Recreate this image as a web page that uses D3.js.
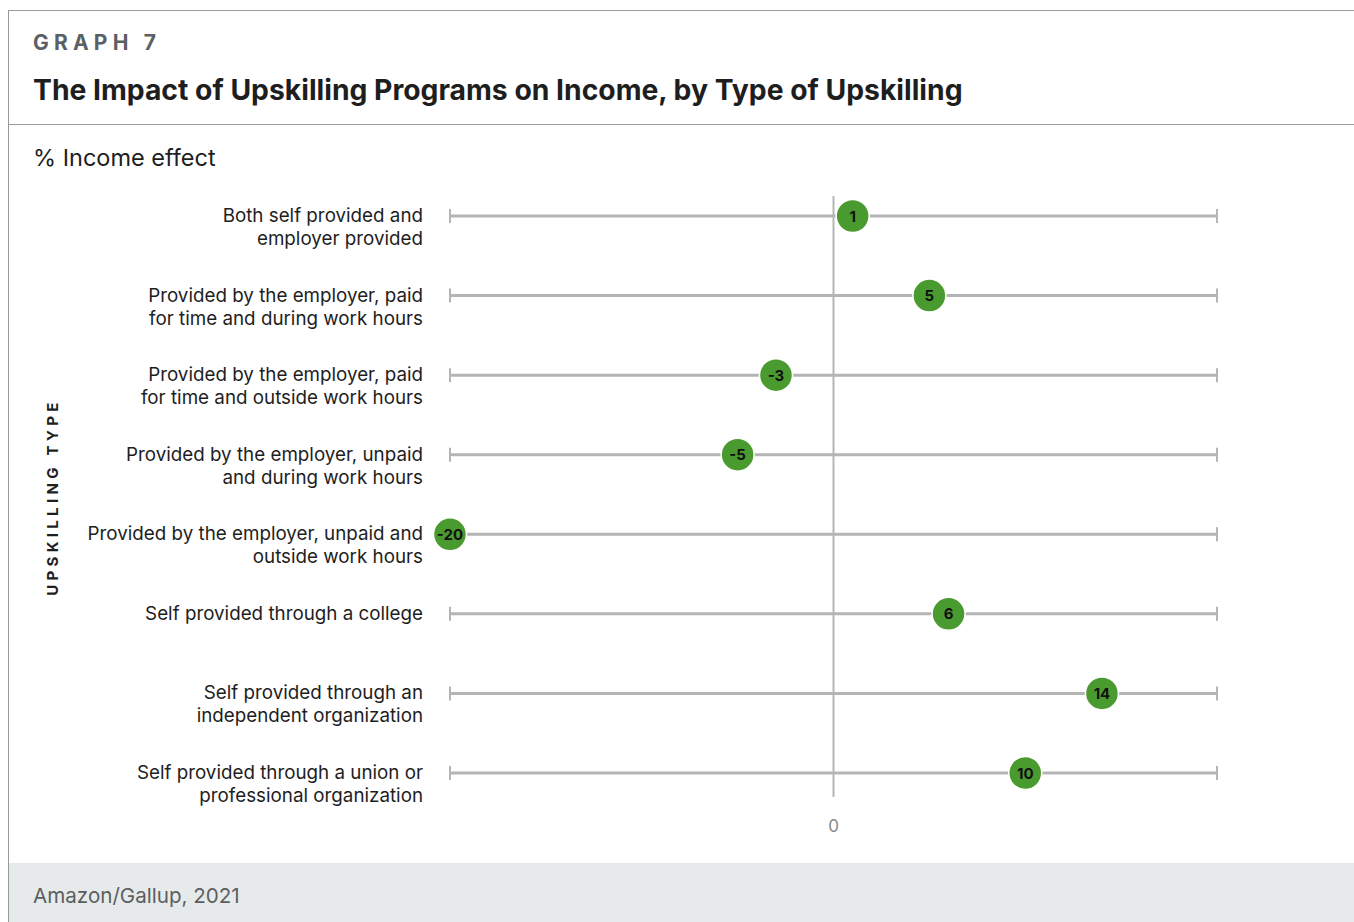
<!DOCTYPE html>
<html>
<head>
<meta charset="utf-8">
<script src="https://cdn.jsdelivr.net/npm/d3@7"></script>
<style>
  body { margin: 0; background: #fff; }
  svg { display: block; font-family: Inter, "Noto Sans", sans-serif; }
</style>
</head>
<body>
<div id="chart"></div>
<script>
// categories, two lines each, top to bottom
var categories = [
  ["Both self provided and", "employer provided"],
  ["Provided by the employer, paid", "for time and during work hours"],
  ["Provided by the employer, paid", "for time and outside work hours"],
  ["Provided by the employer, unpaid", "and during work hours"],
  ["Provided by the employer, unpaid and", "outside work hours"],
  ["Self provided through a college"],
  ["Self provided through an", "independent organization"],
  ["Self provided through a union or", "professional organization"]
];
var incomeEffect = [1, 5, -3, -5, -20, 6, 14, 10];
var xDomain = [-20, 20];
var xTicks = [0];

var width = 1354, height = 922;

var svg = d3.select("#chart").append("svg")
    .attr("width", width)
    .attr("height", height);

// frame lines
svg.append("line").attr("x1", 8.5).attr("x2", 8.5).attr("y1", 10).attr("y2", height)
    .attr("stroke", "#9a9a9a").attr("stroke-width", 1);
svg.append("line").attr("x1", 8).attr("x2", width).attr("y1", 10.5).attr("y2", 10.5)
    .attr("stroke", "#9a9a9a").attr("stroke-width", 1);
svg.append("line").attr("x1", 8).attr("x2", width).attr("y1", 124.5).attr("y2", 124.5)
    .attr("stroke", "#9a9a9a").attr("stroke-width", 1);

// footer
svg.append("rect").attr("x", 9).attr("y", 863).attr("width", width - 9).attr("height", height - 863)
    .attr("fill", "#e7eaeb");
svg.append("text").attr("x", 33).attr("y", 903)
    .attr("font-size", 20.6).attr("fill", "#5b5f61")
    .text("Amazon/Gallup, 2021");

// headings
svg.append("text").attr("x", 33).attr("y", 50)
    .attr("font-size", 21).attr("font-weight", 700).attr("letter-spacing", 5.2)
    .attr("fill", "#5a6063")
    .text("GRAPH 7");
svg.append("text").attr("x", 33).attr("y", 100)
    .attr("font-size", 28.3).attr("font-weight", 700).attr("fill", "#1e1e1e")
    .text("The Impact of Upskilling Programs on Income, by Type of Upskilling");
svg.append("text").attr("x", 33).attr("y", 166)
    .attr("font-size", 23.5).attr("fill", "#1e1e1e")
    .text("% Income effect");

// y axis title
svg.append("text")
    .attr("transform", "translate(58,497) rotate(-90)")
    .attr("text-anchor", "middle")
    .attr("font-size", 15).attr("font-weight", 700).attr("letter-spacing", 4.3)
    .attr("fill", "#1e1e1e")
    .text("UPSKILLING TYPE");

var x = d3.scaleLinear().domain(xDomain).range([450, 1217]);
var y = d3.scalePoint().domain(d3.range(categories.length)).range([216, 773]);

// zero line
svg.selectAll(".zero").data(xTicks).enter().append("line")
    .attr("x1", function(d) { return x(d); })
    .attr("x2", function(d) { return x(d); })
    .attr("y1", 196).attr("y2", 797)
    .attr("stroke", "#b5b5b5").attr("stroke-width", 2);

svg.selectAll(".tick0").data(xTicks).enter().append("text")
    .attr("x", function(d) { return x(d); })
    .attr("y", 832)
    .attr("text-anchor", "middle")
    .attr("font-size", 17).attr("fill", "#8a8a8a")
    .text(function(d) { return d; });

var row = svg.selectAll(".row").data(incomeEffect).enter().append("g")
    .attr("class", "row")
    .attr("transform", function(d, i) { return "translate(0," + y(i) + ")"; });

row.append("line")
    .attr("x1", x(xDomain[0])).attr("x2", x(xDomain[1]))
    .attr("stroke", "#b5b5b5").attr("stroke-width", 3);

// end caps
xDomain.forEach(function(v) {
  row.append("line")
      .attr("x1", x(v)).attr("x2", x(v))
      .attr("y1", -7).attr("y2", 7)
      .attr("stroke", "#b5b5b5").attr("stroke-width", 2);
});

// category labels, first line sits on the row line
row.append("text")
    .attr("text-anchor", "end")
    .attr("font-size", 18.8).attr("fill", "#1e1e1e")
    .each(function(d, i) {
      var t = d3.select(this);
      categories[i].forEach(function(s, k) {
        t.append("tspan").attr("x", 423).attr("y", 6 + k * 23).text(s);
      });
    });

// dots
row.append("circle")
    .attr("cx", function(d) { return x(d); })
    .attr("r", 16.5)
    .attr("fill", "#4a9b2f")
    .attr("stroke", "#fff").attr("stroke-width", 1.5);

row.append("text")
    .attr("x", function(d) { return x(d); })
    .attr("y", 5.5)
    .attr("text-anchor", "middle")
    .attr("font-size", 15).attr("font-weight", 700).attr("fill", "#111")
    .text(function(d) { return d; });
</script>
</body>
</html>
